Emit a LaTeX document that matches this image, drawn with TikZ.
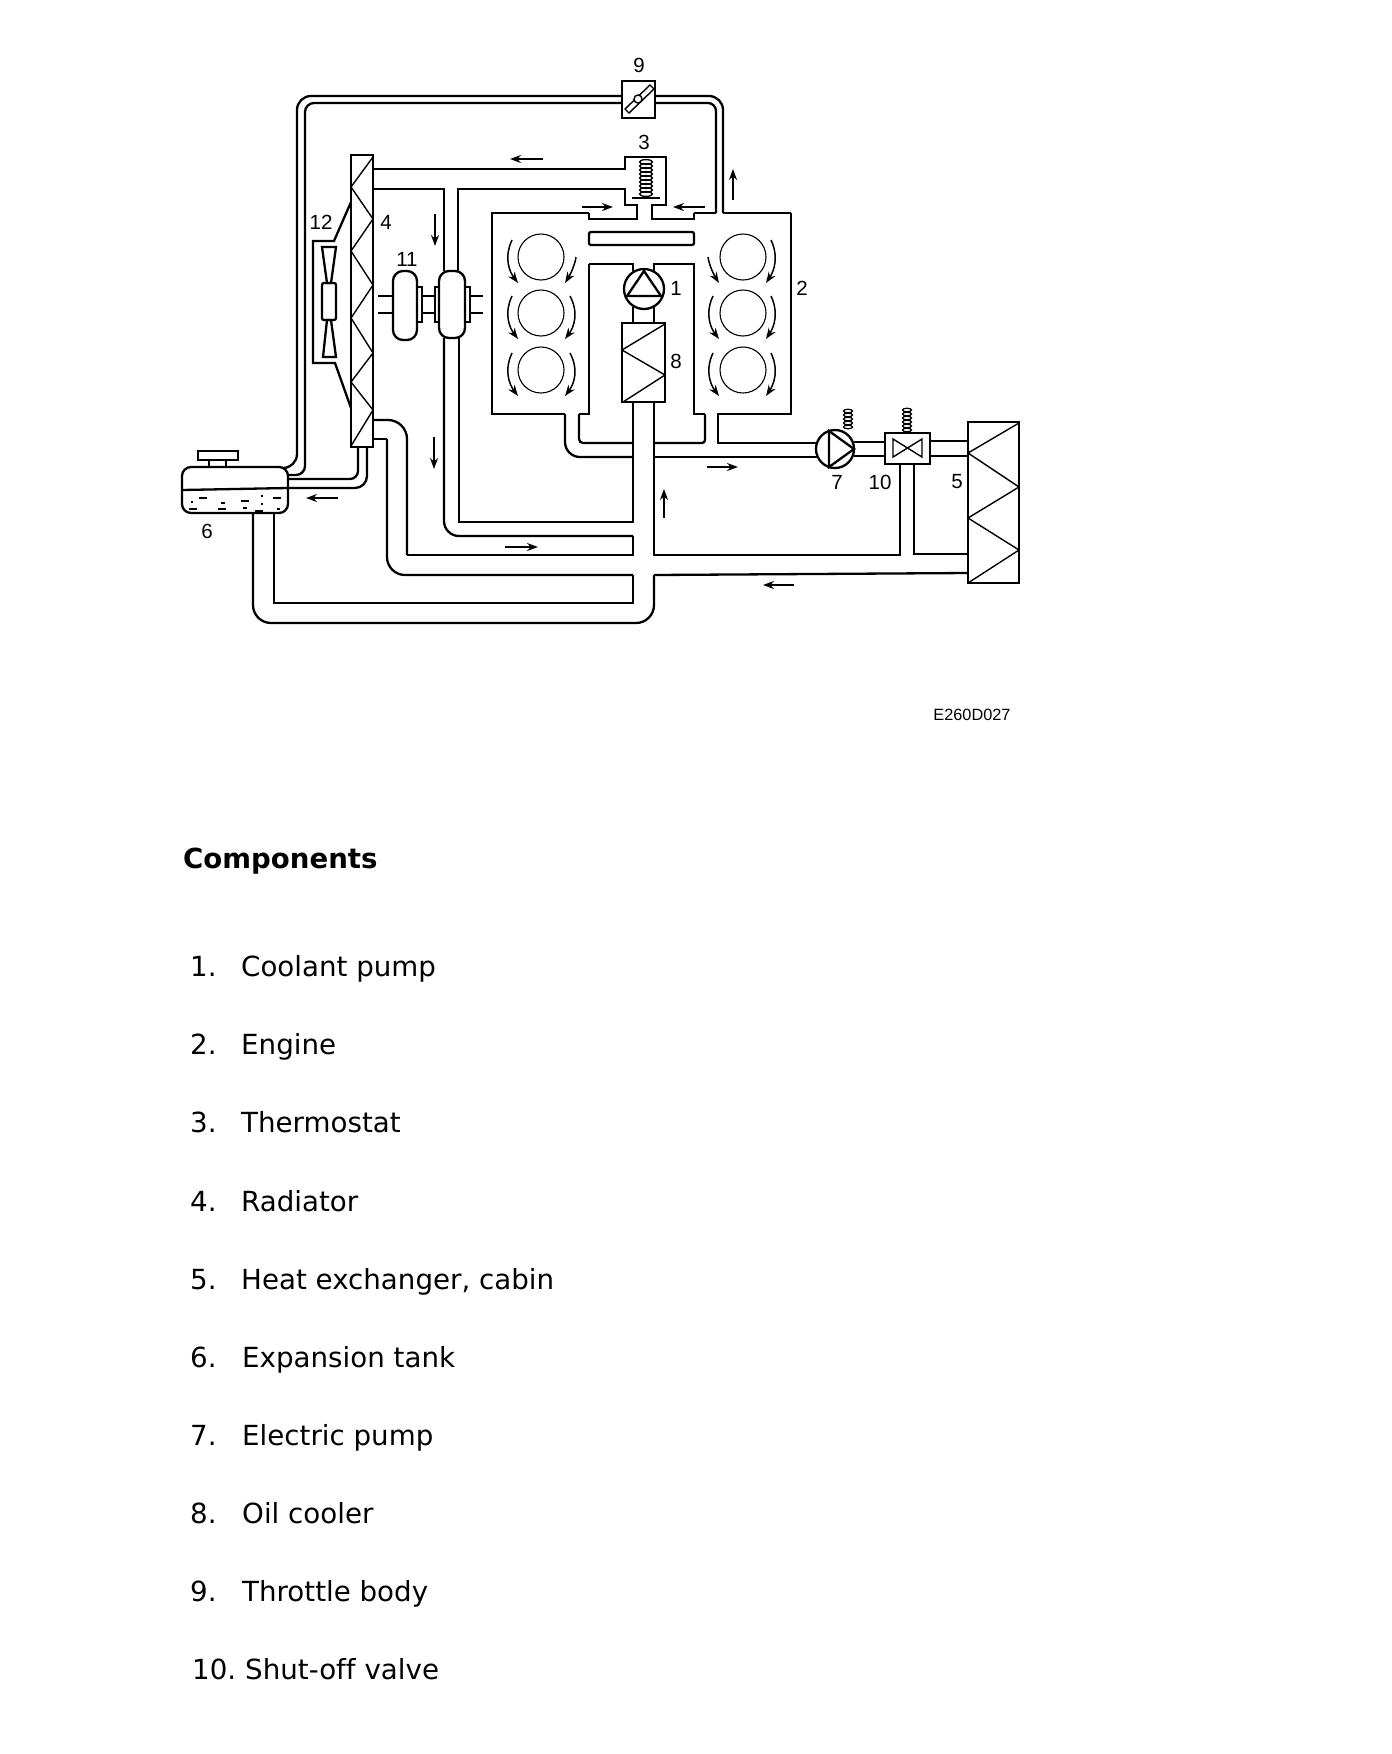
\documentclass[tikz,border=0pt]{standalone}
\usepackage{fontspec}
\setmainfont[Ligatures=NoCommon]{DejaVu Sans}
\newfontfamily\partfont{Liberation Sans}
\usetikzlibrary{arrows.meta}
\tikzset{
  pipe/.style={line width=2.3pt},
  thin part/.style={line width=1.4pt},
  flow/.style={line width=1.5pt,-{Stealth[length=11pt,width=8pt]}},
  swirl/.style={line width=1.5pt,-{Stealth[length=11pt,width=8pt]}},
  partno/.style={font=\partfont\fontsize{20.5}{22}\selectfont,inner sep=0pt},
  listitem/.style={anchor=base west,font=\fontsize{27.7}{30}\selectfont,inner sep=0pt}
}
\begin{document}
\begin{tikzpicture}[x=1pt,y=-1pt]
  \useasboundingbox (0,0) rectangle (1392,1754);
  % throttle loop
  \draw[pipe,rounded corners=14pt] (285,468) -- (297,468) -- (297,96) -- (622,96);
  \draw[pipe,rounded corners=9pt] (288,475) -- (305,475) -- (305,103) -- (622,103);
  \draw[pipe,rounded corners=14pt] (655,96) -- (723,96) -- (723,213);
  \draw[pipe,rounded corners=8pt] (655,103) -- (716,103) -- (716,213);
  \draw[pipe] (716,213) -- (694,213);
  \draw[pipe] (723,213) -- (791,213);
  % throttle body
  \draw[line width=2.6pt] (622,81) rectangle (655,118);
  \draw[thin part] (625,109) -- (629,113) -- (654,89) -- (650,85) -- cycle;
  \fill[white,draw=black,thin part] (638,99) circle (4pt);
  % thermostat
  \draw[pipe] (373,169) -- (625,169) -- (625,157) -- (666,157) -- (666,205) -- (652,205) -- (652,219) -- (694,219) -- (694,213);
  \draw[pipe] (589,213) -- (589,219) -- (637,219) -- (637,205) -- (625,205) -- (625,189) -- (458,189) -- (458,271);
  \draw[pipe] (444,271) -- (444,189) -- (373,189);
  \foreach \sy in {162,166,...,194} \draw[line width=1.3pt] (646,\sy) ellipse (6.5pt and 2.4pt);
  \draw[thin part] (632,198) -- (660,198);
  % engine block
  \draw[pipe] (589,213) -- (492,213) -- (492,414) -- (565,414);
  \draw[pipe,rounded corners=15pt] (565,414) -- (565,457) -- (633,457);
  \draw[pipe] (589,264) -- (589,414) -- (579,414);
  \draw[pipe,rounded corners=4pt] (579,414) -- (579,443) -- (633,443);
  \draw[pipe] (589,264) -- (633,264) -- (633,271);
  \draw[pipe] (654,271) -- (654,264) -- (694,264) -- (694,414) -- (705,414);
  \draw[pipe,rounded corners=3pt] (705,414) -- (705,443) -- (654,443);
  \draw[pipe] (791,213) -- (791,414) -- (718,414) -- (718,443) -- (817,443);
  \draw[pipe] (654,457) -- (817,457);
  \draw[pipe,rounded corners=2pt] (589,232) rectangle (694,245);
  % cylinders
  \foreach \cx in {541,743} \foreach \cy in {257,313,370} \draw[line width=1.1pt] (\cx,\cy) circle (23pt);
  \foreach \cy in {257,313,370} {
    \draw[swirl] (512,\cy-17) .. controls (504,\cy) and (509,\cy+14) .. (518,\cy+26);
    \draw[swirl] (771,\cy-17) .. controls (779,\cy) and (774,\cy+14) .. (766,\cy+26);
  }
  \foreach \cy in {313,370} {
    \draw[swirl] (570,\cy-17) .. controls (579,\cy) and (574,\cy+14) .. (565,\cy+26);
    \draw[swirl] (713,\cy-17) .. controls (705,\cy) and (710,\cy+14) .. (719,\cy+26);
  }
  \draw[swirl] (576,257) .. controls (575,265) and (570,275) .. (565,283);
  \draw[swirl] (708,257) .. controls (709,265) and (714,275) .. (719,283);
  % coolant pump and oil cooler
  \draw[pipe] (644,289) circle (20pt);
  \draw[pipe] (627,296) -- (644,271) -- (661,296) -- cycle;
  \draw[pipe] (633,307) -- (633,323);
  \draw[pipe] (654,307) -- (654,323);
  \draw[line width=2.6pt] (622,323) rectangle (665,402);
  \draw[thin part] (665,324) -- (622,350) -- (665,375) -- (623,402);
  \draw[pipe] (633,402) -- (633,522) -- (459,522) -- (459,338);
  \draw[pipe,rounded corners=15pt] (444,338) -- (444,536) -- (633,536);
  \draw[pipe] (633,536) -- (633,555) -- (407,555);
  \draw[pipe,rounded corners=19pt] (407,555) -- (407,420) -- (373,420);
  \draw[pipe,rounded corners=18pt] (387,439) -- (387,575) -- (633,575);
  \draw[pipe] (373,439) -- (387,439);
  \draw[pipe] (633,575) -- (633,603) -- (274,603) -- (274,513);
  \draw[pipe,rounded corners=18pt] (253,513) -- (253,623) -- (654,623) -- (654,575);
  \draw[pipe] (654,402) -- (654,555) -- (900,555) -- (900,464);
  \draw[pipe] (914,464) -- (914,554) -- (968,554);
  \draw[pipe] (654,575) -- (968,573);
  % radiator
  \draw[line width=2.6pt] (351,155) rectangle (373,447);
  \draw[thin part] (373,157) -- (351,187) -- (373,219) -- (351,251) -- (373,285) -- (351,318) -- (373,353) -- (351,382) -- (373,410) -- (351,446);
  % fan
  \draw[pipe] (351,202) -- (334,241) -- (313,241) -- (313,363) -- (335,363) -- (351,408);
  \draw[pipe] (322,247) -- (336,247) -- (331,283) -- (327,283) -- cycle;
  \draw[pipe,rounded corners=2pt] (322,283) rectangle (336,320);
  \draw[pipe] (327,320) -- (331,320) -- (336,357) -- (323,357) -- cycle;
  % pulleys
  \draw[pipe,rounded corners=10pt] (393,271) rectangle (417,340);
  \draw[pipe,rounded corners=10pt] (439,271) rectangle (465,338);
  \draw[pipe] (417,287) rectangle (422,322);
  \draw[pipe] (435,287) rectangle (439,322);
  \draw[pipe] (465,287) rectangle (470,322);
  \foreach \sy in {296,313} {
    \draw[pipe] (378,\sy) -- (393,\sy);
    \draw[pipe] (422,\sy) -- (435,\sy);
    \draw[pipe] (470,\sy) -- (483,\sy);
  }
  % expansion tank
  \draw[pipe,rounded corners=9pt,fill=white] (182,467) rectangle (288,513);
  \draw[pipe] (182,490) -- (288,488);
  \draw[pipe] (198,451) rectangle (238,460);
  \draw[pipe] (209,460) -- (209,467);
  \draw[pipe] (226,460) -- (226,467);
  \draw[pipe,rounded corners=8pt] (358,447) -- (358,479) -- (288,479);
  \draw[pipe,rounded corners=12pt] (367,447) -- (367,488) -- (288,488);
  \foreach \wx/\wy/\wl in {192/502/2,203/498/8,223/503/4,245/501/8,262/496/2,262/504/2,277/498/8,193/509/8,222/509/8,245/508/4,259/511/8,278/509/3}
    \draw[line width=1.4pt] (\wx-\wl/2,\wy) -- (\wx+\wl/2,\wy);
  % electric pump
  \draw[pipe] (835,449) circle (19pt);
  \draw[pipe] (829,431) -- (854,449) -- (829,467) -- cycle;
  \draw[pipe] (854,442) -- (885,442);
  \draw[pipe] (854,456) -- (885,456);
  \foreach \sy in {411,415,...,429} \draw[line width=1.2pt] (848,\sy) ellipse (4.5pt and 1.8pt);
  % shut-off valve
  \draw[line width=2.8pt] (885,433) rectangle (930,464);
  \draw[thin part] (893,439) -- (922,457) -- (922,439) -- (893,457) -- cycle;
  \foreach \sy in {410,414,...,430} \draw[line width=1.2pt] (907,\sy) ellipse (4.5pt and 1.8pt);
  \draw[pipe] (930,441) -- (968,441);
  \draw[pipe] (930,456) -- (968,456);
  % heat exchanger
  \draw[line width=2.6pt] (968,422) rectangle (1019,583);
  \draw[thin part] (1019,423) -- (968,453) -- (1019,487) -- (968,518) -- (1019,550) -- (968,583);
  % flow arrows
  \draw[flow] (543,159) -- (510,159);
  \draw[flow] (435,214) -- (435,246);
  \draw[flow] (582,207) -- (613,207);
  \draw[flow] (705,207) -- (673,207);
  \draw[flow] (733,200) -- (733,169);
  \draw[flow] (707,467) -- (738,467);
  \draw[flow] (664,518) -- (664,489);
  \draw[flow] (505,547) -- (538,547);
  \draw[flow] (794,585) -- (763,585);
  \draw[flow] (338,498) -- (306,498);
  \draw[flow] (434,437) -- (434,469);
  % part numbers
  \node[partno] (no1) at (676,288) {1};
  \node[partno] (no2) at (802,288) {2};
  \node[partno] (no3) at (644,142) {3};
  \node[partno] (no4) at (386,222) {4};
  \node[partno] (no5) at (957,482) {5};
  \node[partno] (no6) at (207,531) {6};
  \node[partno] (no7) at (837,482) {7};
  \node[partno] (no8) at (676,361) {8};
  \node[partno] (no9) at (639,65) {9};
  \node[partno] (no10) at (880,482) {10};
  \node[partno] (no11) at (407,259) {11};
  \node[partno] (no12) at (321,222) {12};
  \node[partno,font=\partfont\fontsize{16.3}{18}\selectfont] (figcode) at (972,715) {E260D027};
  % parts list
  \node[listitem,font=\bfseries\fontsize{27.6}{30}\selectfont] (title) at (183,868) {Components};
  \foreach \ly/\no/\nx/\tx/\part in {976/1./190/241/Coolant pump,1054/2./190/241/Engine,1132/3./190/241/Thermostat,1211/4./190/241/Radiator,1289/5./190/241/{Heat exchanger, cabin},1367/6./190/242/Expansion tank,1445/7./190/242/Electric pump,1523/8./190/242/Oil cooler,1601/9./190/242/Throttle body,1679/10./192/245/Shut-off valve} {
    \node[listitem] at (\nx,\ly) {\no};
    \node[listitem] at (\tx,\ly) {\part};
  }
\end{tikzpicture}
\end{document}
